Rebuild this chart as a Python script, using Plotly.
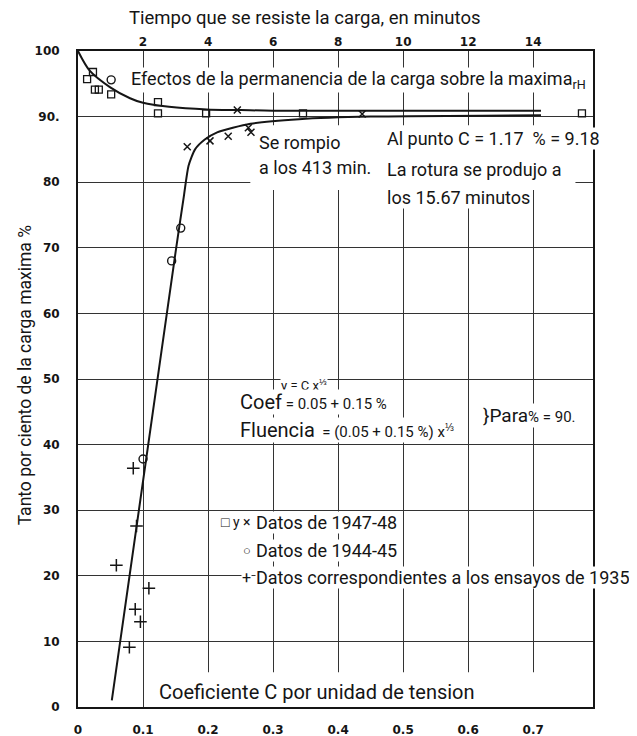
import plotly.graph_objects as go

# ---------------- data ----------------
# Upper curve: effect of load duration (top axis, minutes)
upper_curve_min = [0, 0.36, 0.98, 1.6, 2.0, 2.8, 3.96, 5.0, 6.0, 14.24]
upper_curve_pct = [100, 97.0, 94.5, 92.8, 92.1, 91.5, 91.1, 91.0, 90.9, 90.9]

# Datos de 1947-48 (squares and crosses) on the time axis
sq_min = [0.28, 0.46, 0.52, 0.64, 1.02, 2.46, 2.46, 3.94, 6.92, 15.5]
sq_pct = [95.7, 96.8, 94.1, 94.1, 93.4, 92.2, 90.5, 90.5, 90.5, 90.5]
xt_min = [4.9, 8.74]
xt_pct = [91.0, 90.4]

# Lower curve: percentage vs coefficient C (bottom axis)
lower_curve_c = [0.052, 0.108, 0.151, 0.163, 0.170, 0.180, 0.195, 0.214, 0.265, 0.34, 0.45, 0.712]
lower_curve_pct = [1, 40, 70, 78, 82.5, 85.0, 86.5, 87.6, 88.9, 89.6, 90.0, 90.2]

# Datos de 1947-48 crosses near the bend
xc_c = [0.168, 0.203, 0.231, 0.262, 0.266]
xc_pct = [85.4, 86.3, 87.0, 88.3, 87.6]

# Datos de 1944-45 (circles)
ci_c = [0.051, 0.100, 0.144, 0.158]
ci_pct = [95.6, 37.8, 68.0, 73.0]

# Datos de 1935 (plus)
pl_c = [0.085, 0.090, 0.059, 0.109, 0.088, 0.096, 0.079]
pl_pct = [36.4, 27.6, 21.6, 18.1, 14.9, 13.0, 9.1]

x_ticks = [0, 0.1, 0.2, 0.3, 0.4, 0.5, 0.6, 0.7]
x_ticktext = ["0", "0.1", "0.2", "0.3", "0.4", "0.5", "0.6", "0.7"]
top_ticks = [2, 4, 6, 8, 10, 12, 14]
top_ticktext = ["2", "4", "6", "8", "10", "12", "14"]
y_ticks = [0, 10, 20, 30, 40, 50, 60, 70, 80, 90, 100]
y_ticktext = ["0", "10", "20", "30", "40", "50", "60", "70", "80", "90.", "100"]

X_MAX = 0.792
INK = "#151515"
GRID = "#333333"
FONT = "Roboto, Liberation Sans, sans-serif"
NUMF = "DejaVu Sans, sans-serif"

fig = go.Figure()

fig.add_trace(go.Scatter(x=upper_curve_min, y=upper_curve_pct, xaxis="x2", yaxis="y",
                         mode="lines", line=dict(color=INK, width=2, shape="spline", smoothing=0.8),
                         showlegend=False, hoverinfo="skip"))
fig.add_trace(go.Scatter(x=lower_curve_c, y=lower_curve_pct, mode="lines",
                         line=dict(color=INK, width=2, shape="spline", smoothing=0.6),
                         showlegend=False, hoverinfo="skip"))
fig.add_trace(go.Scatter(x=sq_min, y=sq_pct, xaxis="x2", mode="markers",
                         marker=dict(symbol="square-open", size=7, color=INK, line=dict(width=1.3)),
                         showlegend=False, cliponaxis=False))
fig.add_trace(go.Scatter(x=xt_min, y=xt_pct, xaxis="x2", mode="markers",
                         marker=dict(symbol="x-thin-open", size=7, color=INK, line=dict(width=1.5, color=INK)),
                         showlegend=False))
fig.add_trace(go.Scatter(x=xc_c, y=xc_pct, mode="markers",
                         marker=dict(symbol="x-thin-open", size=7, color=INK, line=dict(width=1.5, color=INK)),
                         showlegend=False))
fig.add_trace(go.Scatter(x=ci_c, y=ci_pct, mode="markers",
                         marker=dict(symbol="circle-open", size=8, color=INK, line=dict(width=1.4)),
                         showlegend=False))
fig.add_trace(go.Scatter(x=pl_c, y=pl_pct, mode="markers",
                         marker=dict(symbol="cross-thin-open", size=9, color=INK, line=dict(width=1.5, color=INK)),
                         showlegend=False))

annotations = []


def txt(x, y, text, size=18, xanchor="left", bg="white", **kw):
    annotations.append(dict(x=x, y=y, xref="x", yref="y", text=text, showarrow=False,
                            xanchor=xanchor, yanchor="middle", bgcolor=bg, borderpad=0,
                            font=dict(family=FONT, size=size, color=INK), **kw))


txt(0.080, 95.6, "Efectos de la permanencia de la carga sobre la maxima<sub>rH</sub>")
txt(0.277, 86.1, "Se rompio")
txt(0.277, 82.2, "a los 413 min.")
txt(0.474, 86.7, "Al punto C = 1.17  % = 9.18")
txt(0.474, 82.0, "La rotura se produjo a")
txt(0.474, 77.6, "los 15.67 minutos")
txt(0.311, 49.1, "y = C x<sup>⅓</sup>", size=13)
txt(0.248, 46.5, "Coef<span style='font-size:15px'> = 0.05 + 0.15 %</span>", size=20)
txt(0.248, 42.2, "Fluencia<span style='font-size:15px'>  = (0.05 + 0.15 %) x<sup>⅓</sup></span>", size=20)
txt(0.622, 44.4, "}Para<span style='font-size:15px'>% = 90.</span>", size=19)
txt(0.268, 28.2, "□ y ×", size=14, xanchor="right")
txt(0.272, 28.2, "Datos de 1947-48")
txt(0.268, 23.9, "○", size=13, xanchor="right")
txt(0.272, 23.9, "Datos de 1944-45")
txt(0.268, 19.7, "+", size=16, xanchor="right")
txt(0.272, 19.7, "Datos correspondientes a los ensayos de 1935")
txt(0.368, 2.3, "Coeficiente C por unidad de tension", size=20, xanchor="center")

annotations.append(dict(x=0.44, y=1.05, xref="paper", yref="paper", showarrow=False,
                        text="Tiempo que se resiste la carga, en minutos",
                        font=dict(family=FONT, size=18.5, color=INK),
                        xanchor="center", yanchor="middle"))
annotations.append(dict(x=-0.103, y=0.507, xref="paper", yref="paper", showarrow=False,
                        text="Tanto por ciento de la carga maxima %", textangle=-90,
                        font=dict(family=FONT, size=17.5, color=INK),
                        xanchor="center", yanchor="middle"))

# white patches where the hand-drawn grid is interrupted (above grid, below data)
shapes = [
    dict(type="rect", xref="x", yref="y", x0=0.265, x1=0.765, y0=78.8, y1=88.7,
         fillcolor="white", line=dict(width=0), layer="between"),
    dict(type="rect", xref="x", yref="y", x0=0.15, x1=X_MAX, y0=0, y1=5.3,
         fillcolor="white", line=dict(width=0), layer="between"),
]

fig.update_layout(
    template="none",
    width=629, height=728,
    margin=dict(l=70, r=44, t=43, b=29, autoexpand=False),
    paper_bgcolor="white", plot_bgcolor="white",
    annotations=annotations,
    shapes=shapes,
    xaxis=dict(range=[0, X_MAX], tickvals=x_ticks, ticktext=x_ticktext, showgrid=True,
               gridcolor=GRID, gridwidth=1.3, zeroline=False, showline=True, linecolor=INK,
               linewidth=2, mirror=True, ticks="", ticklabelstandoff=11, automargin=False,
               tickfont=dict(family=NUMF, size=12, color=INK, weight="bold")),
    xaxis2=dict(range=[0, X_MAX * 20], overlaying="x", side="top", tickvals=top_ticks,
                ticktext=top_ticktext, showgrid=False, zeroline=False, showline=False,
                ticks="", ticklabelstandoff=2, automargin=False,
                tickfont=dict(family=NUMF, size=12, color=INK, weight="bold")),
    yaxis=dict(range=[0, 100], tickvals=y_ticks, ticktext=y_ticktext, showgrid=True,
               gridcolor=GRID, gridwidth=1.3, zeroline=False, showline=True, linecolor=INK,
               linewidth=2, mirror=True, ticks="", ticklabelstandoff=14, automargin=False,
               tickfont=dict(family=NUMF, size=12, color=INK, weight="bold")),
)

fig.write_html("out.html")
